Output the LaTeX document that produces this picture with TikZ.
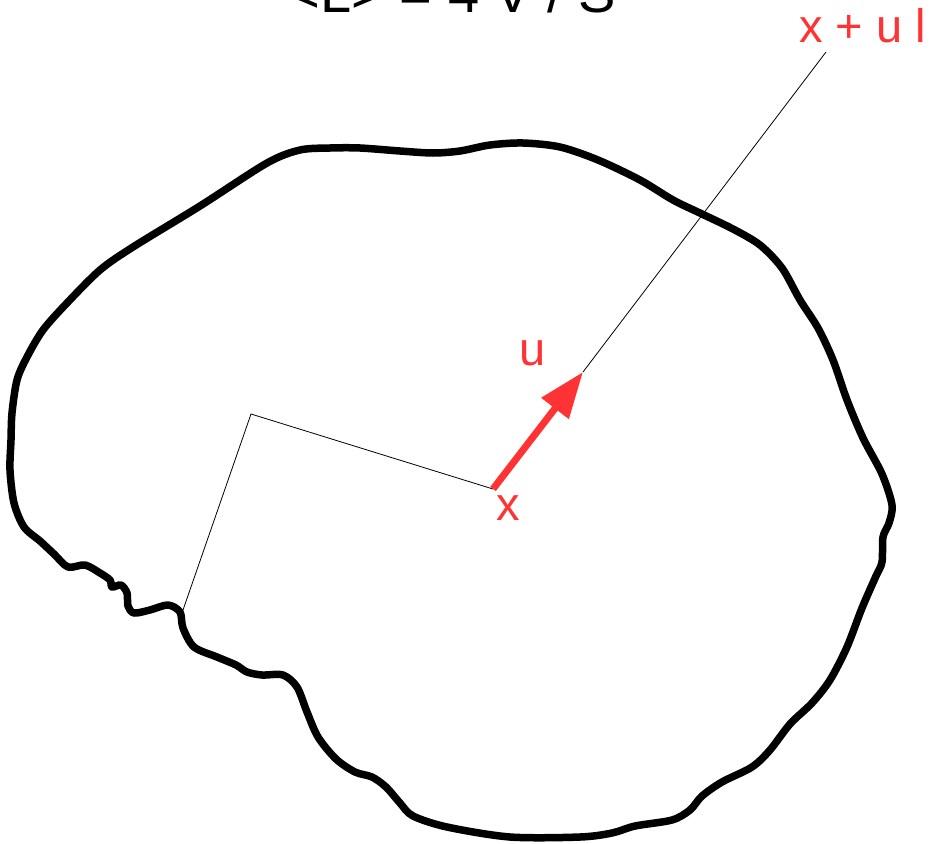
\documentclass[tikz,border=0pt]{standalone}
\usepackage{fontspec}
\setmainfont{Liberation Sans}
\usetikzlibrary{arrows.meta}
\definecolor{redl}{RGB}{255,51,51}
\begin{document}
\begin{tikzpicture}[x=1pt,y=-1pt,
  blob/.style={line width=7.5pt,line join=round},
  thin/.style={line width=0.8pt},
  redlab/.style={text=redl,inner sep=0pt,font=\fontsize{47}{56}\selectfont},
  vecarrow/.style={draw=redl,line width=7pt,-{Triangle[length=46pt,width=33pt]}}]
\useasboundingbox (0,0) rectangle (931,843);
\draw[blob] plot[smooth cycle,tension=0.5] coordinates {
(300,150) (330,148) (360,148) (400,151) (433,153) (460,151) (490,145) (523,143)
(560,147) (598,160) (640,180) (673,200) (702,214) (733,229) (760,245) (782,268)
(800,300) (818,328) (833,360) (847,400) (863,438) (882,474) (892,505) (889,523)
(883,537) (882,562) (876,576) (862,608) (847,647) (830,680) (812,703) (790,724)
(770,750) (752,767) (722,782) (702,796) (690,810) (672,820) (635,826) (612,833)
(580,837) (510,837) (447,827) (413,816) (400,803) (386,787) (372,777) (355,772)
(336,759) (318,737) (307,712) (297,687) (283,675) (262,675) (247,672) (236,665)
(217,657) (194,647) (183,628) (180,612) (168,605) (150,610) (134,613) (128,606)
(127,593) (121,585) (112,587) (110,580) (100,573) (85,565) (68,567) (54,554)
(40,541) (24,527) (14,503) (10,470) (11,440) (12,413) (17,380) (27,357)
(43,330) (67,303) (100,270) (133,247) (200,206) (267,163)};
\coordinate (wall) at (183,610);
\coordinate (corner) at (251,414);
\coordinate (xpt) at (493,489);
\coordinate (tip) at (583,372);
\coordinate (far) at (826,52);
\draw[thin] (wall) -- (corner) -- (xpt);
\draw[thin] (tip) -- (far);
\draw[vecarrow] (xpt) -- (tip);
\node[redlab,anchor=base] (xlab) at (508,520) {x};
\node[redlab,anchor=base] (ulab) at (533,365) {u};
\node[redlab,anchor=base west] (xul) at (799,43) {x + u l};
\node[inner sep=0pt,anchor=base,font=\fontsize{56}{64}\selectfont] (title) at (452,13) {<L> = 4 V / S};
\end{tikzpicture}
\end{document}
